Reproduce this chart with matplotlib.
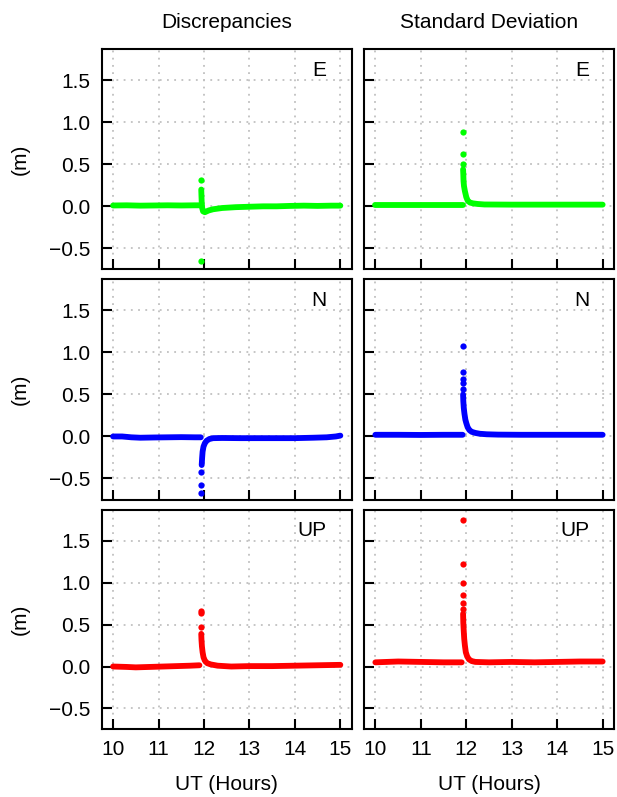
import matplotlib
matplotlib.use('Agg')
import matplotlib.pyplot as plt

plt.rcParams['font.family'] = ['Liberation Sans', 'DejaVu Sans']

# ---- E component ----
e_dis_pre_t = [10.0, 10.3, 10.6, 10.9, 11.2, 11.5, 11.8, 11.92]
e_dis_pre_v = [0.01, 0.012, 0.008, 0.01, 0.012, 0.01, 0.012, 0.012]
e_dis_post_t = [11.94, 11.945, 11.95, 11.96, 11.98, 12.02, 12.1, 12.2, 12.4, 12.7, 13.0,
                13.3, 13.6, 13.9, 14.2, 14.5, 14.8, 15.0]
e_dis_post_v = [0.2, 0.12, 0.05, -0.02, -0.06, -0.07, -0.05, -0.035, -0.02, -0.01, -0.005,
                0.0, 0.0, 0.005, 0.008, 0.005, 0.008, 0.008]
e_dis_dot_t = [11.935, 11.935]
e_dis_dot_v = [0.31, -0.65]

e_std_pre_t = [10.0, 10.5, 11.0, 11.5, 11.92]
e_std_pre_v = [0.02, 0.02, 0.02, 0.02, 0.02]
e_std_post_t = [11.93, 11.935, 11.94, 11.95, 11.97, 12.0, 12.03, 12.08, 12.15, 12.25, 12.4,
                13.0, 13.5, 14.0, 14.5, 15.0]
e_std_post_v = [0.44, 0.38, 0.3, 0.24, 0.18, 0.11, 0.07, 0.045, 0.035, 0.028, 0.022,
                0.02, 0.02, 0.02, 0.02, 0.02]
e_std_dot_t = [11.925, 11.925, 11.925]
e_std_dot_v = [0.88, 0.62, 0.50]

# ---- N component ----
n_dis_pre_t = [10.0, 10.2, 10.4, 10.6, 10.9, 11.2, 11.5, 11.8, 11.93]
n_dis_pre_v = [0.0, 0.0, -0.01, -0.015, -0.012, -0.01, -0.008, -0.01, -0.01]
n_dis_post_t = [11.95, 11.96, 11.97, 11.99, 12.02, 12.06, 12.12, 12.2, 12.4, 12.8, 13.2,
                13.6, 14.0, 14.4, 14.7, 14.9, 15.0]
n_dis_post_v = [-0.34, -0.25, -0.18, -0.12, -0.08, -0.05, -0.03, -0.02, -0.018, -0.02, -0.02,
                -0.02, -0.02, -0.015, -0.01, 0.0, 0.01]
n_dis_dot_t = [11.945, 11.945, 11.945]
n_dis_dot_v = [-0.42, -0.575, -0.675]

n_std_pre_t = [10.0, 10.5, 11.0, 11.5, 11.92]
n_std_pre_v = [0.02, 0.02, 0.018, 0.02, 0.02]
n_std_post_t = [11.93, 11.935, 11.945, 11.96, 11.98, 12.0, 12.03, 12.07, 12.12, 12.2, 12.3,
                12.45, 12.7, 13.2, 13.7, 14.2, 14.7, 15.0]
n_std_post_v = [0.50, 0.42, 0.34, 0.27, 0.2, 0.16, 0.11, 0.075, 0.055, 0.042, 0.032,
                0.026, 0.022, 0.02, 0.02, 0.02, 0.02, 0.02]
n_std_dot_t = [11.925, 11.925, 11.925, 11.93, 11.93]
n_std_dot_v = [1.08, 0.77, 0.68, 0.64, 0.56]

# ---- UP component ----
u_dis_pre_t = [10.0, 10.3, 10.5, 10.8, 11.1, 11.4, 11.7, 11.9]
u_dis_pre_v = [0.0, -0.005, -0.01, -0.005, 0.0, 0.005, 0.01, 0.015]
u_dis_post_t = [11.94, 11.945, 11.955, 11.97, 11.99, 12.02, 12.07, 12.15, 12.3, 12.6, 13.0,
                13.5, 14.0, 14.5, 15.0]
u_dis_post_v = [0.39, 0.32, 0.24, 0.17, 0.11, 0.07, 0.04, 0.025, 0.01, 0.0, 0.005,
                0.005, 0.01, 0.015, 0.02]
u_dis_dot_t = [11.935, 11.945, 11.945]
u_dis_dot_v = [0.66, 0.64, 0.47]

u_std_pre_t = [10.0, 10.5, 11.0, 11.5, 11.9]
u_std_pre_v = [0.05, 0.06, 0.055, 0.05, 0.05]
u_std_post_t = [11.93, 11.935, 11.945, 11.955, 11.97, 11.99, 12.02, 12.06, 12.12, 12.2, 12.5,
                13.0, 13.5, 14.0, 14.5, 15.0]
u_std_post_v = [0.63, 0.52, 0.42, 0.33, 0.25, 0.17, 0.12, 0.085, 0.065, 0.055, 0.05,
                0.055, 0.05, 0.055, 0.06, 0.06]
u_std_dot_t = [11.925, 11.925, 11.925, 11.93, 11.93, 11.93]
u_std_dot_v = [1.75, 1.23, 1.0, 0.86, 0.76, 0.69]

panels = [
    [('E', '#00ff00', e_dis_pre_t, e_dis_pre_v, e_dis_post_t, e_dis_post_v, e_dis_dot_t, e_dis_dot_v),
     ('E', '#00ff00', e_std_pre_t, e_std_pre_v, e_std_post_t, e_std_post_v, e_std_dot_t, e_std_dot_v)],
    [('N', '#0000ff', n_dis_pre_t, n_dis_pre_v, n_dis_post_t, n_dis_post_v, n_dis_dot_t, n_dis_dot_v),
     ('N', '#0000ff', n_std_pre_t, n_std_pre_v, n_std_post_t, n_std_post_v, n_std_dot_t, n_std_dot_v)],
    [('UP', '#ff0000', u_dis_pre_t, u_dis_pre_v, u_dis_post_t, u_dis_post_v, u_dis_dot_t, u_dis_dot_v),
     ('UP', '#ff0000', u_std_pre_t, u_std_pre_v, u_std_post_t, u_std_post_v, u_std_dot_t, u_std_dot_v)],
]
titles = ['Discrepancies', 'Standard Deviation']

W, H = 617, 797
fig = plt.figure(figsize=(W / 100, H / 100), dpi=100)
col_x = [(101.7, 351.7), (364, 614)]
row_y = [(49.3, 269.3), (279.3, 499.5), (510, 729.3)]
fs = 15

for r in range(3):
    for c in range(2):
        x0, x1 = col_x[c]
        y0, y1 = row_y[r]
        ax = fig.add_axes([x0 / W, 1 - y1 / H, (x1 - x0) / W, (y1 - y0) / H])
        lab, col, pt, pv, qt, qv, dt, dv = panels[r][c]
        kw = dict(color=col, lw=4.2, solid_capstyle='round', solid_joinstyle='round')
        ax.plot(pt, pv, **kw)
        ax.plot(qt, qv, **kw)
        ax.plot(dt, dv, 'o', color=col, ms=4.5, mew=0)
        ax.set_xlim(9.75, 15.25)
        ax.set_ylim(-0.75, 1.87)
        ax.set_xticks([10, 11, 12, 13, 14, 15])
        ax.set_yticks([-0.5, 0.0, 0.5, 1.0, 1.5])
        ax.grid(True, color='#c0c0c0', linestyle=(0, (1, 3)), lw=1.3)
        ax.tick_params(direction='in', length=7, width=1.5, labelsize=fs)
        ax.tick_params(axis='y', pad=8)
        ax.tick_params(axis='x', pad=8)
        for s in ax.spines.values():
            s.set_linewidth(1.5)
        ax.text(0.9, 0.905, lab, transform=ax.transAxes, ha='right', va='center', fontsize=fs)
        if c == 0:
            ax.set_ylabel('(m)', fontsize=fs, labelpad=14)
        else:
            ax.set_yticklabels([])
        if r == 2:
            ax.set_xlabel('UT (Hours)', fontsize=fs, labelpad=11)
        else:
            ax.set_xticklabels([])
        if r == 0:
            ax.set_title(titles[c], fontsize=fs, pad=15)

fig.savefig('out.png', dpi=100)
